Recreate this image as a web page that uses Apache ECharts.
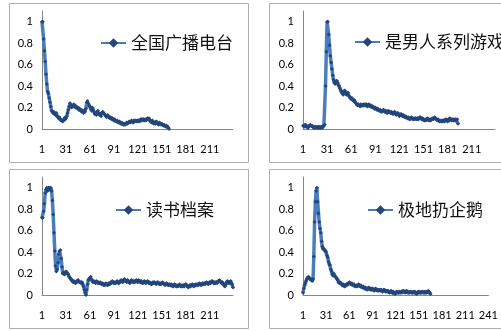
<!DOCTYPE html>
<html><head><meta charset="utf-8">
<script src="https://cdn.jsdelivr.net/npm/echarts@6/dist/echarts.min.js"></script>
<style>html,body{margin:0;padding:0;background:#fff}#c{width:501px;height:331px}</style>
</head><body><div id="c"></div>
<script>
const seriesNames = ['全国广播电台', '是男人系列游戏', '读书档案', '极地扔企鹅'];
const categoryCounts = [240, 240, 240, 241];
const yTicks = [0, 0.2, 0.4, 0.6, 0.8, 1];

const radio = [
1.0,1.0,0.84,0.73,0.63,0.51,0.42,0.35,0.33,0.29,0.25,0.21,0.17,0.16,0.15,
0.16,0.14,0.13,0.15,0.12,0.11,0.10,0.11,0.09,0.08,0.08,0.07,0.08,0.10,0.09,
0.10,0.12,0.15,0.18,0.21,0.24,0.22,0.20,0.22,0.21,0.23,0.22,0.20,0.21,0.19,
0.20,0.18,0.19,0.17,0.18,0.16,0.17,0.15,0.17,0.16,0.19,0.25,0.26,0.24,0.22,
0.21,0.19,0.17,0.20,0.18,0.16,0.14,0.15,0.13,0.16,0.17,0.15,0.13,0.14,0.12,
0.15,0.16,0.15,0.14,0.13,0.12,0.11,0.13,0.12,0.11,0.10,0.11,0.09,0.10,0.09,
0.08,0.09,0.08,0.07,0.08,0.07,0.06,0.07,0.06,0.05,0.06,0.05,0.04,0.05,0.04,
0.05,0.06,0.05,0.06,0.07,0.06,0.07,0.08,0.07,0.06,0.08,0.07,0.08,0.07,0.08,
0.07,0.08,0.07,0.08,0.09,0.08,0.08,0.09,0.08,0.09,0.08,0.09,0.10,0.09,0.10,
0.08,0.07,0.06,0.08,0.07,0.05,0.06,0.05,0.07,0.06,0.05,0.04,0.06,0.05,0.04,
0.05,0.04,0.03,0.04,0.03,0.02,0.03,0.02,0.01,0.0
];

const game = [
0.03,0.03,0.02,0.04,0.03,0.02,0.01,0.02,0.03,0.04,0.03,0.03,0.02,0.02,0.01,0.02,0.02,0.01,0.02,0.01,0.02,0.01,0.01,0.02,0.01,0.02,0.03,0.04,
0.40,0.72,1.0,1.0,0.88,0.78,0.68,0.62,0.56,0.50,0.46,0.43,0.42,0.44,0.45,0.43,
0.41,0.40,0.38,0.36,0.35,0.33,0.32,0.34,0.36,0.34,0.32,0.33,0.34,0.31,0.30,0.29,
0.28,0.29,0.27,0.26,0.27,0.25,0.24,0.23,0.22,0.23,0.22,0.21,0.23,0.22,0.22,0.23,
0.22,0.23,0.22,0.23,0.21,0.22,0.23,0.22,0.21,0.22,0.20,0.21,0.20,0.19,0.20,0.19,
0.18,0.19,0.18,0.17,0.18,0.17,0.16,0.17,0.18,0.17,0.16,0.17,0.16,0.15,0.17,0.16,
0.16,0.15,0.16,0.15,0.14,0.15,0.16,0.14,0.13,0.14,0.15,0.13,0.12,0.13,0.14,0.13,
0.12,0.13,0.12,0.11,0.12,0.11,0.10,0.11,0.10,0.09,0.10,0.11,0.10,0.09,0.10,0.09,
0.10,0.09,0.09,0.10,0.09,0.10,0.11,0.10,0.09,0.10,0.09,0.08,0.09,0.08,0.09,0.10,
0.09,0.08,0.09,0.08,0.09,0.10,0.09,0.10,0.11,0.10,0.09,0.08,0.09,0.08,0.07,0.08,
0.07,0.08,0.07,0.08,0.07,0.08,0.09,0.08,0.07,0.09,0.08,0.10,0.09,0.08,0.09,0.08,
0.09,0.08,0.09,0.08,0.09,0.05
];

const books = [
0.72,0.72,0.78,0.85,0.95,0.98,1.0,0.97,1.0,1.0,0.98,1.0,0.97,0.88,0.75,0.58,
0.41,0.27,0.22,0.24,0.30,0.38,0.41,0.42,0.34,0.26,0.20,0.21,0.19,0.20,0.22,0.21,
0.20,0.19,0.17,0.16,0.15,0.14,0.13,0.12,0.13,0.12,0.11,0.12,0.13,0.14,0.13,0.12,
0.12,0.11,0.12,0.10,0.08,0.05,0.02,0.00,0.05,0.10,0.14,0.15,0.16,0.17,0.15,0.13,
0.12,0.13,0.12,0.11,0.13,0.12,0.11,0.12,0.11,0.12,0.11,0.10,0.11,0.10,0.09,0.10,
0.11,0.10,0.09,0.10,0.11,0.10,0.11,0.12,0.13,0.12,0.11,0.12,0.11,0.12,0.13,0.12,
0.11,0.12,0.13,0.14,0.13,0.12,0.14,0.15,0.14,0.13,0.12,0.14,0.13,0.12,0.11,0.13,
0.14,0.13,0.12,0.13,0.12,0.13,0.14,0.13,0.12,0.14,0.13,0.12,0.13,0.12,0.11,0.12,
0.13,0.12,0.11,0.12,0.13,0.12,0.11,0.12,0.11,0.10,0.11,0.12,0.11,0.12,0.11,0.10,
0.11,0.12,0.11,0.10,0.11,0.10,0.11,0.12,0.11,0.10,0.09,0.10,0.11,0.10,0.09,0.10,
0.10,0.09,0.10,0.09,0.08,0.09,0.10,0.09,0.08,0.09,0.08,0.09,0.10,0.09,0.08,0.09,
0.08,0.09,0.08,0.09,0.10,0.09,0.08,0.07,0.08,0.09,0.08,0.09,0.10,0.09,0.08,0.09,
0.10,0.09,0.10,0.09,0.10,0.11,0.10,0.09,0.10,0.11,0.10,0.11,0.10,0.11,0.12,0.11,
0.10,0.11,0.12,0.11,0.12,0.13,0.12,0.11,0.12,0.11,0.12,0.11,0.12,0.13,0.14,0.13,
0.12,0.11,0.12,0.10,0.09,0.08,0.10,0.12,0.13,0.12,0.11,0.12,0.13,0.11,0.10,0.07
];

const penguin = [
0.02,0.06,0.09,0.11,0.13,0.15,0.16,0.17,0.16,0.15,0.15,0.14,0.13,0.15,0.36,0.68,
0.87,0.97,1.0,0.87,0.76,0.68,0.62,0.58,0.50,0.45,0.43,0.43,0.42,0.41,0.40,0.37,
0.35,0.31,0.29,0.28,0.24,0.22,0.19,0.18,0.20,0.18,0.17,0.16,0.15,0.14,0.12,0.11,
0.12,0.11,0.10,0.09,0.10,0.09,0.08,0.09,0.10,0.09,0.10,0.11,0.12,0.11,0.10,0.11,
0.10,0.09,0.10,0.09,0.08,0.09,0.08,0.09,0.10,0.09,0.08,0.09,0.08,0.07,0.08,0.07,
0.06,0.07,0.06,0.05,0.06,0.07,0.06,0.05,0.06,0.05,0.06,0.05,0.04,0.05,0.06,0.05,
0.04,0.05,0.04,0.05,0.04,0.05,0.04,0.03,0.04,0.05,0.04,0.03,0.04,0.03,0.04,0.03,
0.02,0.03,0.04,0.03,0.02,0.03,0.02,0.01,0.02,0.03,0.02,0.03,0.02,0.03,0.02,0.03,
0.02,0.03,0.04,0.03,0.02,0.03,0.04,0.03,0.02,0.03,0.02,0.03,0.02,0.03,0.02,0.03,
0.02,0.03,0.02,0.01,0.02,0.03,0.02,0.03,0.02,0.03,0.02,0.03,0.02,0.03,0.02,0.03,
0.02,0.03,0.04,0.03,0.02,0.01
];

const allData = [radio, game, books, penguin];

function indexLabels(n) { const a = []; for (let i = 1; i <= n; i++) a.push(String(i)); return a; }
const categories = categoryCounts.map(indexLabels);

const grids = [
  {left: 42, top: 11, width: 191, height: 118},
  {left: 303, top: 11, width: 192, height: 118},
  {left: 42, top: 177, width: 191, height: 118},
  {left: 303, top: 177, width: 192, height: 118}
];
const legendPos = [
  {left: 100, top: 33},
  {left: 354, top: 32},
  {left: 115, top: 200},
  {left: 367, top: 200}
];
const boxes = [
  {x: 9.5, y: 3.5, w: 239, h: 159},
  {x: 269.5, y: 3.5, w: 260, h: 159},
  {x: 9.5, y: 169.5, w: 239, h: 159},
  {x: 269.5, y: 169.5, w: 260, h: 159}
];

const lineColor = '#4A7EBB';
const markColor = '#24467A';
const axisColor = '#868686';
const labelFont = {fontFamily: 'Lato, "Open Sans", sans-serif', fontSize: 11, color: '#000'};

const option = {
  animation: false,
  backgroundColor: '#fff',
  graphic: boxes.map(b => ({type: 'rect', silent: true, z: -1,
    shape: {x: b.x, y: b.y, width: b.w, height: b.h},
    style: {fill: '#fff', stroke: '#AFAFAF', lineWidth: 1}})),
  grid: grids,
  xAxis: grids.map((g, k) => ({
    type: 'category', gridIndex: k, data: categories[k], boundaryGap: false,
    axisLine: {lineStyle: {color: axisColor, width: 1}},
    axisTick: {show: false},
    axisLabel: Object.assign({interval: 29, margin: 15}, labelFont)
  })),
  yAxis: grids.map((g, k) => ({
    type: 'value', gridIndex: k, min: 0, max: 1.1, interval: 0.2,
    splitLine: {show: false},
    axisLine: {show: true, lineStyle: {color: axisColor, width: 1}},
    axisTick: {show: false},
    axisLabel: Object.assign({margin: 9,
      formatter: v => (yTicks.some(t => Math.abs(t - v) < 1e-6) ? String(Math.round(v * 10) / 10) : '')}, labelFont)
  })),
  legend: seriesNames.map((n, k) => ({
    data: [n], left: legendPos[k].left, top: legendPos[k].top,
    itemWidth: 25, itemHeight: 12, itemGap: 4, padding: 0,
    textStyle: {fontFamily: '"Noto Sans CJK SC", sans-serif', fontSize: 17, color: '#111', lineHeight: 20}
  })),
  series: seriesNames.map((n, k) => ({
    name: n, type: 'line', xAxisIndex: k, yAxisIndex: k,
    data: allData[k], showAllSymbol: true, symbol: 'diamond', symbolSize: 4,
    itemStyle: {color: markColor},
    lineStyle: {color: lineColor, width: 3.5},
    emphasis: {disabled: true}
  }))
};

const chart = echarts.init(document.getElementById('c'), null, {renderer: 'canvas'});
chart.setOption(option);
</script>
</body></html>
